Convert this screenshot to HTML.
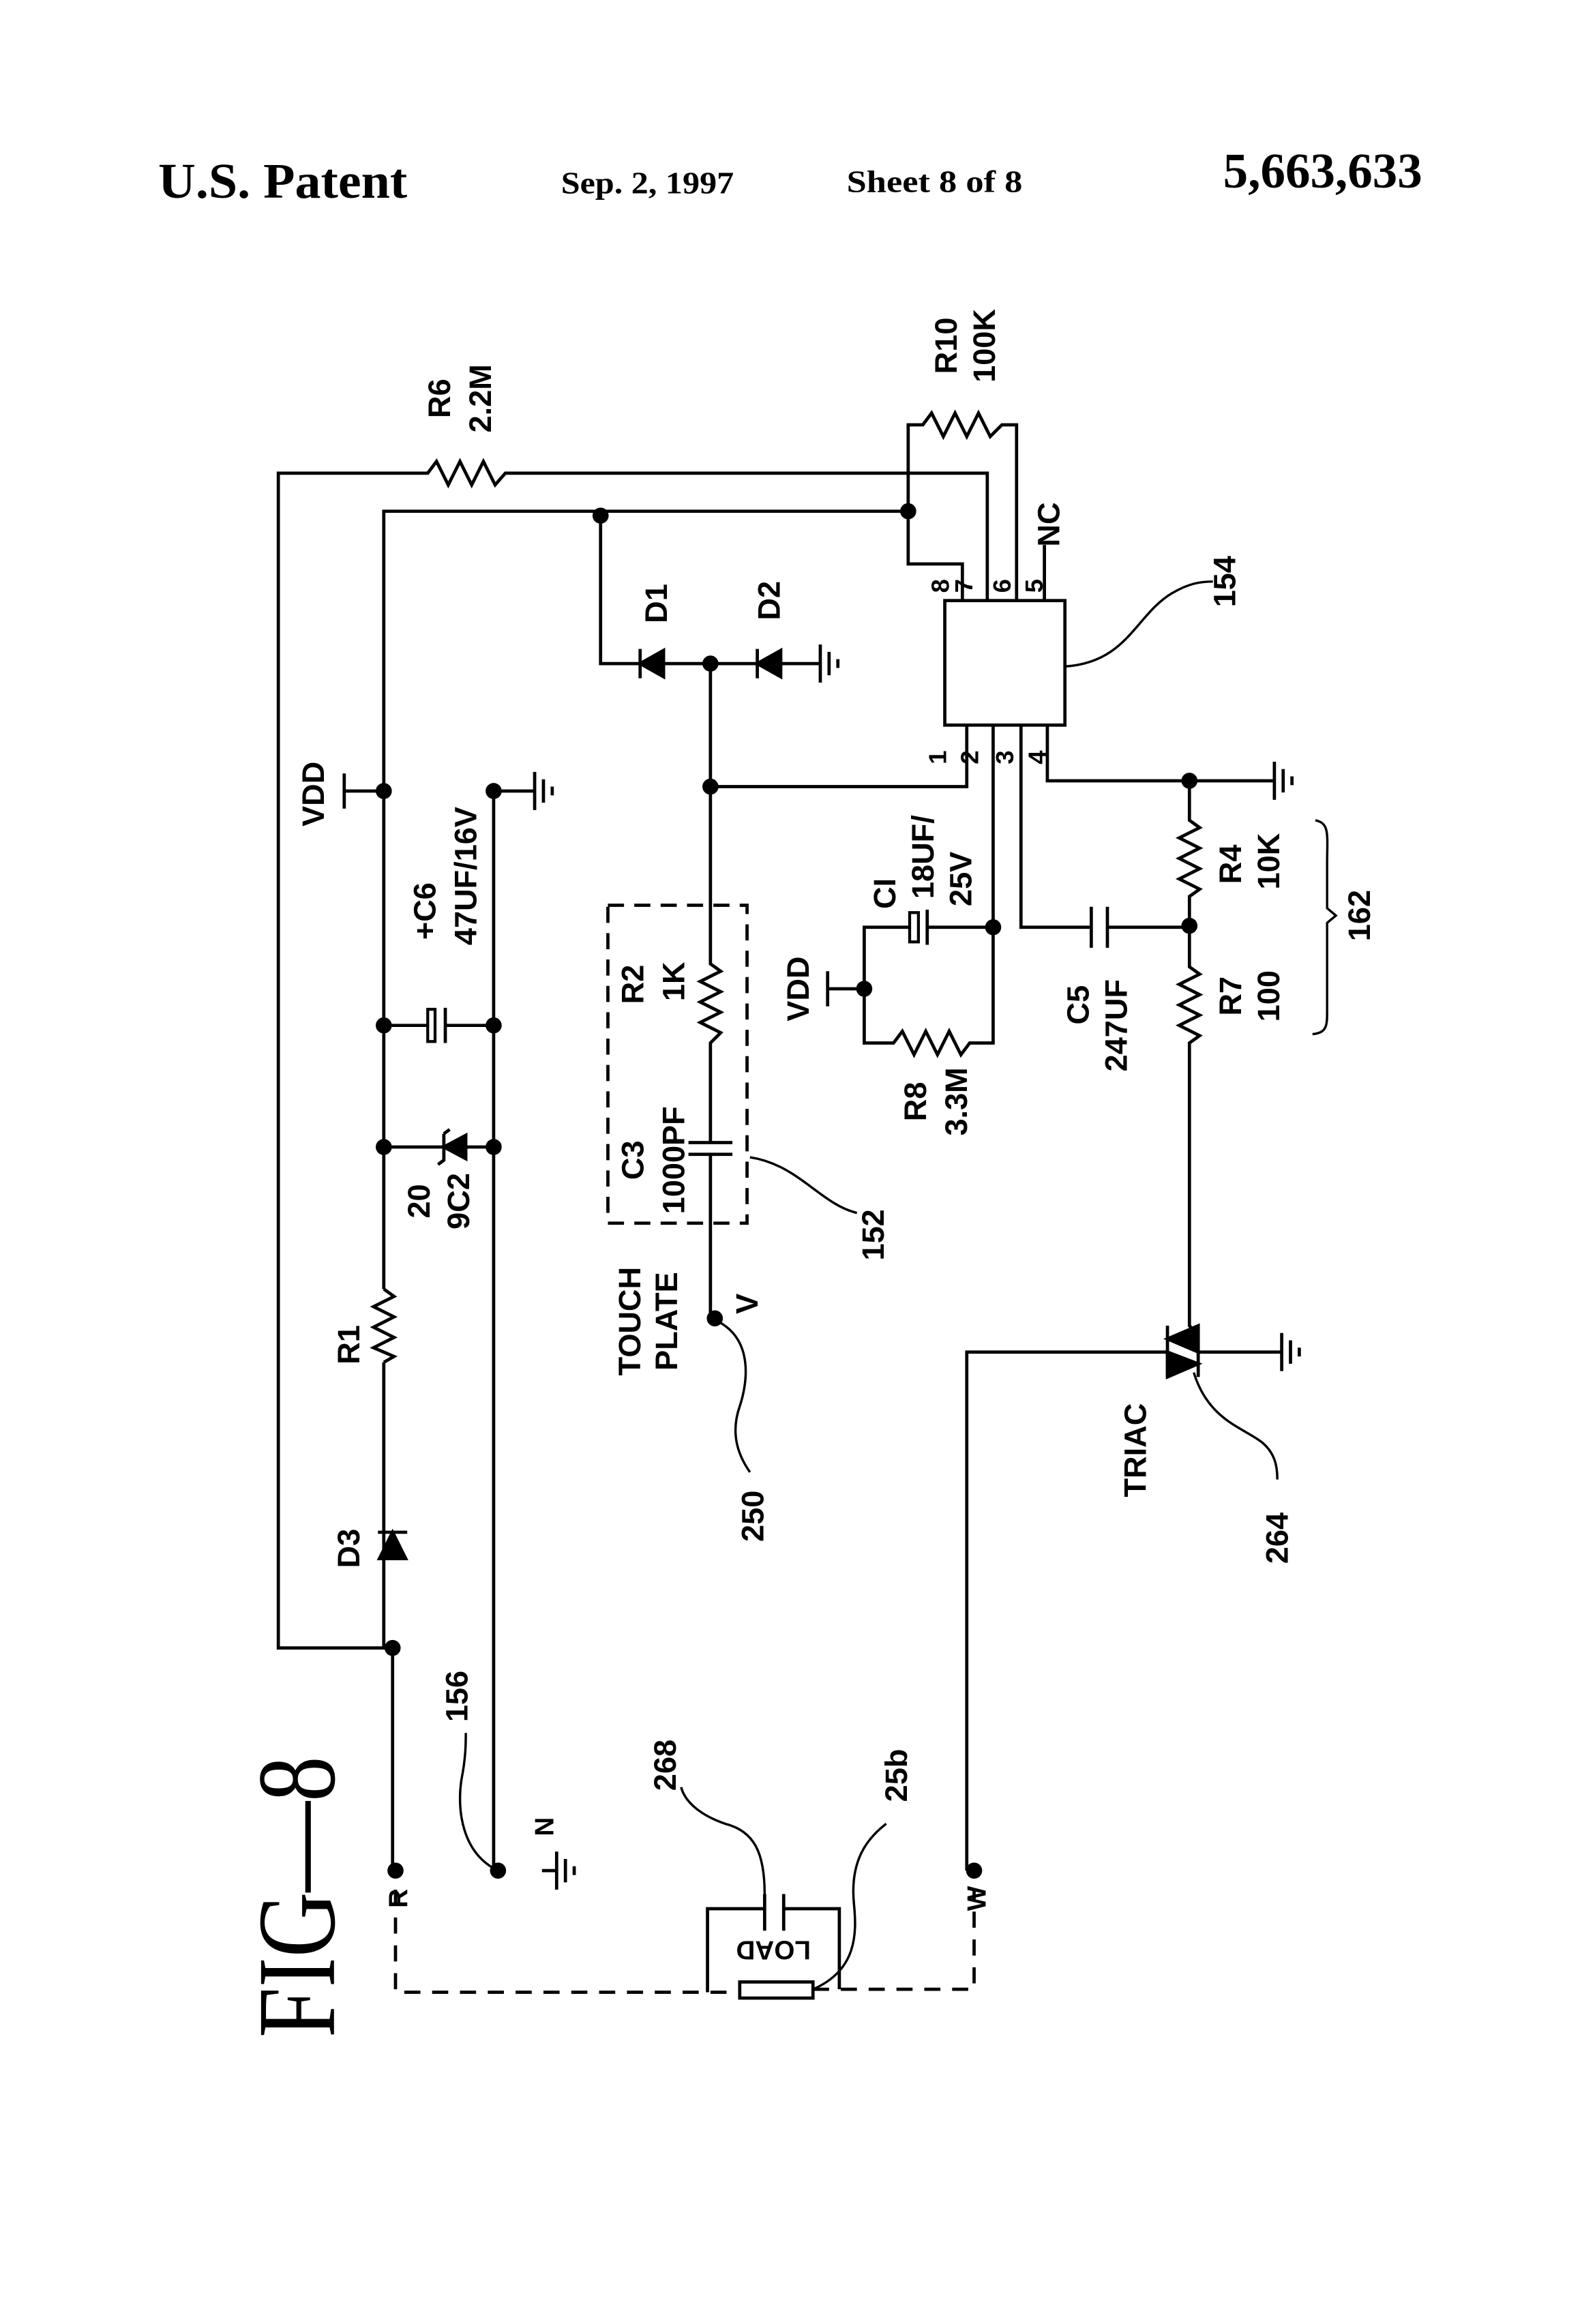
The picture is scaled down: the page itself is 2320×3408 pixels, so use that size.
<!DOCTYPE html>
<html><head><meta charset="utf-8"><style>
html,body{margin:0;padding:0;background:#fff}
svg{display:block}
.w{fill:none;stroke:#000;stroke-width:2.2;stroke-linejoin:miter}
.t{font-family:"Liberation Sans",sans-serif;font-size:21px;font-weight:bold;fill:#000;text-anchor:middle;dominant-baseline:central}
.h{font-family:"Liberation Serif",serif;font-weight:bold;fill:#000}
</style></head><body>
<svg width="2320" height="3408" viewBox="0 0 1080 1586.5" xmlns="http://www.w3.org/2000/svg">
<rect width="1080" height="1586.5" fill="#fff"/>
<text class="h" x="108" y="135" font-size="34" textLength="170" lengthAdjust="spacingAndGlyphs">U.S. Patent</text>
<text class="h" x="383" y="132" font-size="21" textLength="118" lengthAdjust="spacingAndGlyphs">Sep. 2, 1997</text>
<text class="h" x="578" y="131" font-size="21" textLength="120" lengthAdjust="spacingAndGlyphs">Sheet 8 of 8</text>
<text class="h" x="835" y="128" font-size="34" textLength="136" lengthAdjust="spacingAndGlyphs">5,663,633</text>

<g class="w">
<path d="M268,1125 H190 V323 H292 L298,315 306,331 314,315 322,331 330,315 338,331 345,323 H674 V410"/>
<path d="M262,880 V349 H620"/>
<path d="M262,930 V1125"/>
<path d="M620,349 V385 H657 V410"/>
<path d="M620,349 V290 H630 L636,282 644,298 652,282 660,298 668,282 676,298 684,290 H694 V410"/>
<path d="M713,410 V372"/>
<path d="M262,540 H235 M235,528 V552"/>
<path d="M262,700 H292 M304,700 H337 M304,688 V712"/>
<rect x="292" y="689" width="5" height="22" fill="none" stroke="#000" stroke-width="2"/>
<path d="M262,783 H337 M303,774 V792 L299,795 M303,774 L307,771"/>
<polygon points="303,783 318,775 318,791" fill="#000" stroke="#000"/>
<path d="M337,540 V1277 M337,540 H365 M365,527 V553 M371,532 V548 M377,537 V543"/>
<path d="M262,880 L269,885 255,892 269,899 255,906 269,913 255,920 269,926 262,930"/>
<path d="M268,1125 V1277"/>
<polygon points="268,1046 259,1064 277,1064" fill="#000" stroke="#000"/>
<path d="M258,1046 H278"/>
<path d="M410,352 V453 H560 M560,440 V466 M566,445 V461 M572,450 V456"/>
<polygon points="437,453 453,444 453,462" fill="#000" stroke="#000"/>
<path d="M437,443 V463"/>
<polygon points="517,453 533,444 533,462" fill="#000" stroke="#000"/>
<path d="M517,443 V463"/>
<path d="M485,453 V658 L492,663 478,670 492,677 478,684 492,691 478,698 492,705 485,712 V780 M470,780 H500 M470,788 H500 M485,788 V900"/>
<path d="M485,537 H660 V495"/>
<rect x="645" y="410" width="82" height="85"/>
<path d="M678,495 V633 H633 M621,633 H590 V712 H610 L616,704 624,720 632,704 640,720 648,704 656,720 662,712 H678 V633"/>
<path d="M633,621 V645"/>
<rect x="621" y="623" width="6" height="20" fill="none" stroke="#000" stroke-width="2"/>
<path d="M590,675 H565 M565,663 V687"/>
<path d="M697,495 V633 H745 M745,619 V647 M756,619 V647 M756,633 H812"/>
<path d="M715,495 V533 H870 M870,520 V546 M876,525 V541 M882,530 V536"/>
<path d="M812,533 V560 L819,565 805,572 819,579 805,586 819,593 805,600 819,607 812,612 V660 L819,665 805,672 819,679 805,686 819,693 805,700 819,707 812,712 V905 L818,912"/>
<path d="M660,1277 V923 H797 M797,905 V940 M818,905 V940 M818,923 H875 M875,910 V936 M881,915 V931 M887,920 V926"/>
<polygon points="797,914 818,905 818,923" fill="#000"/>
<polygon points="818,931 797,923 797,940" fill="#000"/>
<rect x="415" y="618" width="95" height="217" stroke-dasharray="11,7"/>
<path d="M483,1360 V1303 H522 M535,1303 H573 V1358 M522,1293 V1318 M535,1293 V1318"/>
<rect x="505" y="1353" width="50" height="11"/>
<path d="M270,1290 V1360 H505 M555,1358 H665 V1290" stroke-dasharray="11,8"/>
<path d="M727,455 C770,452 775,420 800,405 C812,398 820,397 828,397" stroke-width="1.6"/>
<path d="M512,790 C545,795 560,822 585,828" stroke-width="1.6"/>
<path d="M490,902 C515,915 510,945 505,960 C498,980 505,995 512,1005" stroke-width="1.6"/>
<path d="M815,937 C825,970 850,975 862,985 C870,992 872,1000 872,1010" stroke-width="1.6"/>
<path d="M340,1277 C315,1265 312,1235 315,1215 C318,1200 318,1190 318,1183" stroke-width="1.6"/>
<path d="M522,1293 C522,1265 515,1250 495,1245 C475,1238 467,1228 465,1220" stroke-width="1.6"/>
<path d="M555,1358 C585,1345 585,1320 583,1300 C580,1270 592,1255 605,1245" stroke-width="1.6"/>
<path d="M898,560 C908,562 906,570 906,590 V620 L912,625 906,630 V690 C906,700 906,705 896,706" stroke-width="1.6"/>
</g>
<g fill="#000">
<circle cx="410" cy="352" r="5.5"/><circle cx="620" cy="349" r="5.5"/>
<circle cx="262" cy="540" r="5.5"/><circle cx="337" cy="540" r="5.5"/>
<circle cx="262" cy="700" r="5.5"/><circle cx="337" cy="700" r="5.5"/>
<circle cx="262" cy="783" r="5.5"/><circle cx="337" cy="783" r="5.5"/>
<circle cx="268" cy="1125" r="5.5"/><circle cx="270" cy="1277" r="5.5"/>
<circle cx="340" cy="1277" r="5.5"/><circle cx="665" cy="1277" r="5.5"/>
<circle cx="485" cy="453" r="5.5"/><circle cx="485" cy="537" r="5.5"/>
<circle cx="488" cy="900" r="5.5"/><circle cx="590" cy="675" r="5.5"/>
<circle cx="678" cy="633" r="5.5"/><circle cx="812" cy="533" r="5.5"/>
<circle cx="812" cy="632" r="5.5"/>
</g>
<path d="M370,1277 H380 M380,1264 V1290 M386,1269 V1285 M392,1274 V1280" class="w"/>
<g class="t">
<text transform="translate(300,272) rotate(-90)">R6</text>
<text transform="translate(328,272) rotate(-90)">2.2M</text>
<text transform="translate(646,236) rotate(-90)">R10</text>
<text transform="translate(672,236) rotate(-90)">100K</text>
<text transform="translate(716,358) rotate(-90)">NC</text>
<text transform="translate(836,397) rotate(-90)">154</text>
<text transform="translate(642,400) rotate(-90)" font-size="17">8</text>
<text transform="translate(658,400) rotate(-90)" font-size="17">7</text>
<text transform="translate(684,400) rotate(-90)" font-size="17">6</text>
<text transform="translate(706,400) rotate(-90)" font-size="17">5</text>
<text transform="translate(640,517) rotate(-90)" font-size="17">1</text>
<text transform="translate(662,517) rotate(-90)" font-size="17">2</text>
<text transform="translate(686,517) rotate(-90)" font-size="17">3</text>
<text transform="translate(708,517) rotate(-90)" font-size="17">4</text>
<text transform="translate(448,412) rotate(-90)">D1</text>
<text transform="translate(525,410) rotate(-90)">D2</text>
<text transform="translate(214,542) rotate(-90)">VDD</text>
<text transform="translate(290,622) rotate(-90)">+C6</text>
<text transform="translate(318,598) rotate(-90)">47UF/16V</text>
<text transform="translate(604,610) rotate(-90)">CI</text>
<text transform="translate(630,585) rotate(-90)">18UF/</text>
<text transform="translate(656,600) rotate(-90)">25V</text>
<text transform="translate(545,675) rotate(-90)">VDD</text>
<text transform="translate(432,672) rotate(-90)">R2</text>
<text transform="translate(460,670) rotate(-90)">1K</text>
<text transform="translate(736,686) rotate(-90)">C5</text>
<text transform="translate(762,700) rotate(-90)">247UF</text>
<text transform="translate(840,590) rotate(-90)">R4</text>
<text transform="translate(866,588) rotate(-90)">10K</text>
<text transform="translate(840,680) rotate(-90)">R7</text>
<text transform="translate(866,680) rotate(-90)">100</text>
<text transform="translate(928,625) rotate(-90)">162</text>
<text transform="translate(625,752) rotate(-90)">R8</text>
<text transform="translate(653,752) rotate(-90)">3.3M</text>
<text transform="translate(432,792) rotate(-90)">C3</text>
<text transform="translate(460,792) rotate(-90)">1000PF</text>
<text transform="translate(286,820) rotate(-90)">20</text>
<text transform="translate(313,820) rotate(-90)">9C2</text>
<text transform="translate(596,843) rotate(-90)">152</text>
<text transform="translate(430,902) rotate(-90)">TOUCH</text>
<text transform="translate(455,902) rotate(-90)">PLATE</text>
<text transform="translate(510,890) rotate(-90)">V</text>
<text transform="translate(238,918) rotate(-90)">R1</text>
<text transform="translate(514,1035) rotate(-90)">250</text>
<text transform="translate(775,990) rotate(-90)">TRIAC</text>
<text transform="translate(872,1050) rotate(-90)">264</text>
<text transform="translate(238,1057) rotate(-90)">D3</text>
<text transform="translate(312,1158) rotate(-90)">156</text>
<text transform="translate(454,1205) rotate(-90)">268</text>
<text transform="translate(612,1212) rotate(-90)">25b</text>
<text transform="translate(272,1296) rotate(-90)" font-size="18">R</text>
<text transform="translate(372,1247) rotate(-90)" font-size="18">N</text>
<text transform="translate(667,1296) rotate(-90)" font-size="18">W</text>
<text transform="translate(528,1331) rotate(180)" font-size="18">LOAD</text>
</g>
<text transform="translate(228,1295) rotate(-90)" font-family="Liberation Serif,serif" font-size="76" text-anchor="middle" textLength="192" lengthAdjust="spacingAndGlyphs">FIG—8</text>
</svg>
</body></html>
